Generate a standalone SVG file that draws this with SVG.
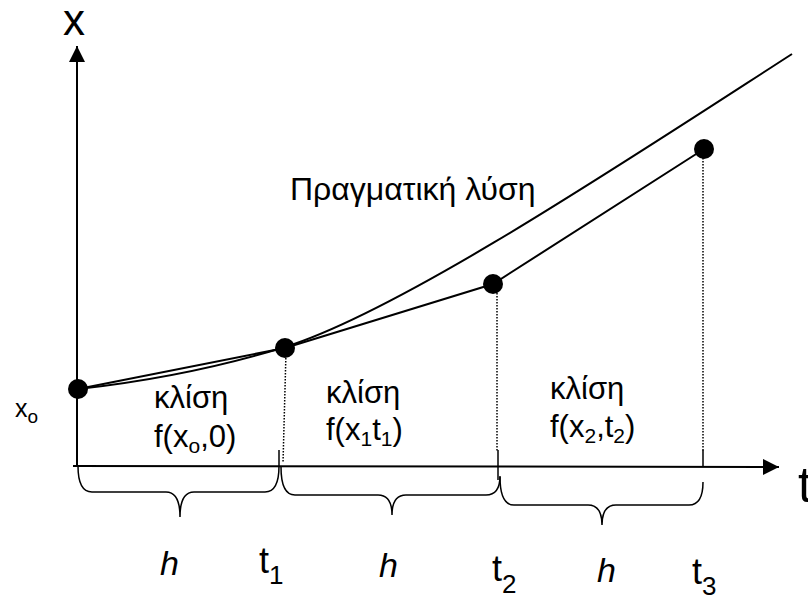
<svg xmlns="http://www.w3.org/2000/svg" width="808" height="600" viewBox="0 0 808 600">
<style>
text{font-family:"Liberation Sans",Arial,sans-serif;fill:#000}
.ln{fill:none;stroke:#000;stroke-width:2}
.br{fill:none;stroke:#000;stroke-width:1.5}
.dot{fill:none;stroke:#000;stroke-width:1.5;stroke-dasharray:1.5 1.5}
.tk{stroke:#000;stroke-width:1.5}
.pt{fill:#000}
.lbl{font-size:31px}
.sub{font-size:21px}
.big{font-size:36px}
.h{font-size:34px;font-style:italic}
</style>
<defs>
<marker id="arrY" markerWidth="16" markerHeight="16" refX="16" refY="8" orient="auto" markerUnits="userSpaceOnUse" viewBox="0 0 16 16">
<path d="M0,0 L16,8 L0,16 z" fill="#000"/>
</marker>
</defs>
<g id="axes">
<line class="ln" x1="77" y1="466" x2="77" y2="46" marker-end="url(#arrY)"/>
<line class="ln" x1="73" y1="466" x2="779" y2="467" marker-end="url(#arrY)"/>
<text x="74" y="35" text-anchor="middle" style="font-size:44px">x</text>
<text x="798" y="502" style="font-size:50px">t</text>
</g>
<g id="connectors">
<path id="true-solution" class="ln" d="M78,389 C150,381 220,367 285,347 C400,311 620,165 792,54"/>
<polyline id="euler" class="ln" points="78,389 285,348 493,284 704,149"/>
<line class="dot" x1="286" y1="352" x2="283" y2="463"/>
<line class="dot" x1="497" y1="290" x2="497" y2="452"/>
<line class="dot" x1="703" y1="158" x2="703" y2="452"/>
<line class="tk" x1="279" y1="450" x2="279" y2="466"/>
<line class="tk" x1="498" y1="450" x2="498" y2="480"/>
<line class="tk" x1="703" y1="450" x2="703" y2="466"/>
<path class="br" d="M78,466 Q78,492 92,492 L166,492 Q180,492 180,517 Q180,492 194,492 L265,492 Q279,492 279,466"/>
<path class="br" d="M281,467 Q281,495 295,495 L378,495 Q392,495 392,515 Q392,495 406,495 L486,495 Q500,495 500,476"/>
<path class="br" d="M500,477 Q500,505 514,505 L588,505 Q602,505 602,525 Q602,505 616,505 L689,505 Q703,505 703,482"/>
</g>
<g id="x0">
<circle class="pt" cx="78" cy="389" r="10"/>
<text x="15" y="417" style="font-size:25px">x<tspan style="font-size:19px" dy="6">o</tspan></text>
</g>
<g id="p1"><circle class="pt" cx="285" cy="348" r="10"/></g>
<g id="p2"><circle class="pt" cx="493" cy="284" r="10"/></g>
<g id="p3"><circle class="pt" cx="704" cy="149" r="10"/></g>
<g id="label-true">
<text x="290" y="200" style="font-size:32px">Πραγματική λύση</text>
</g>
<g id="slope1">
<text class="lbl" x="154" y="408">κλίση</text>
<text class="lbl" x="154" y="447">f(x<tspan class="sub" dy="6">o</tspan><tspan dy="-6">,0)</tspan></text>
</g>
<g id="slope2">
<text class="lbl" x="326" y="403">κλίση</text>
<text class="lbl" x="326" y="440">f(x<tspan class="sub" dy="6">1</tspan><tspan dy="-6">t</tspan><tspan class="sub" dy="6">1</tspan><tspan dy="-6">)</tspan></text>
</g>
<g id="slope3">
<text class="lbl" x="550" y="399">κλίση</text>
<text class="lbl" x="550" y="437">f(x<tspan class="sub" dy="6">2</tspan><tspan dy="-6">,t</tspan><tspan class="sub" dy="6">2</tspan><tspan dy="-6">)</tspan></text>
</g>
<g id="h-labels">
<text class="h" x="160" y="575">h</text>
<text class="h" x="379" y="577">h</text>
<text class="h" x="597" y="582">h</text>
</g>
<g id="t-labels">
<text class="big" x="259" y="573">t<tspan style="font-size:26px" dy="11">1</tspan></text>
<text class="big" x="492" y="581">t<tspan style="font-size:26px" dy="12">2</tspan></text>
<text class="big" x="692" y="584">t<tspan style="font-size:26px" dy="11">3</tspan></text>
</g>
</svg>
